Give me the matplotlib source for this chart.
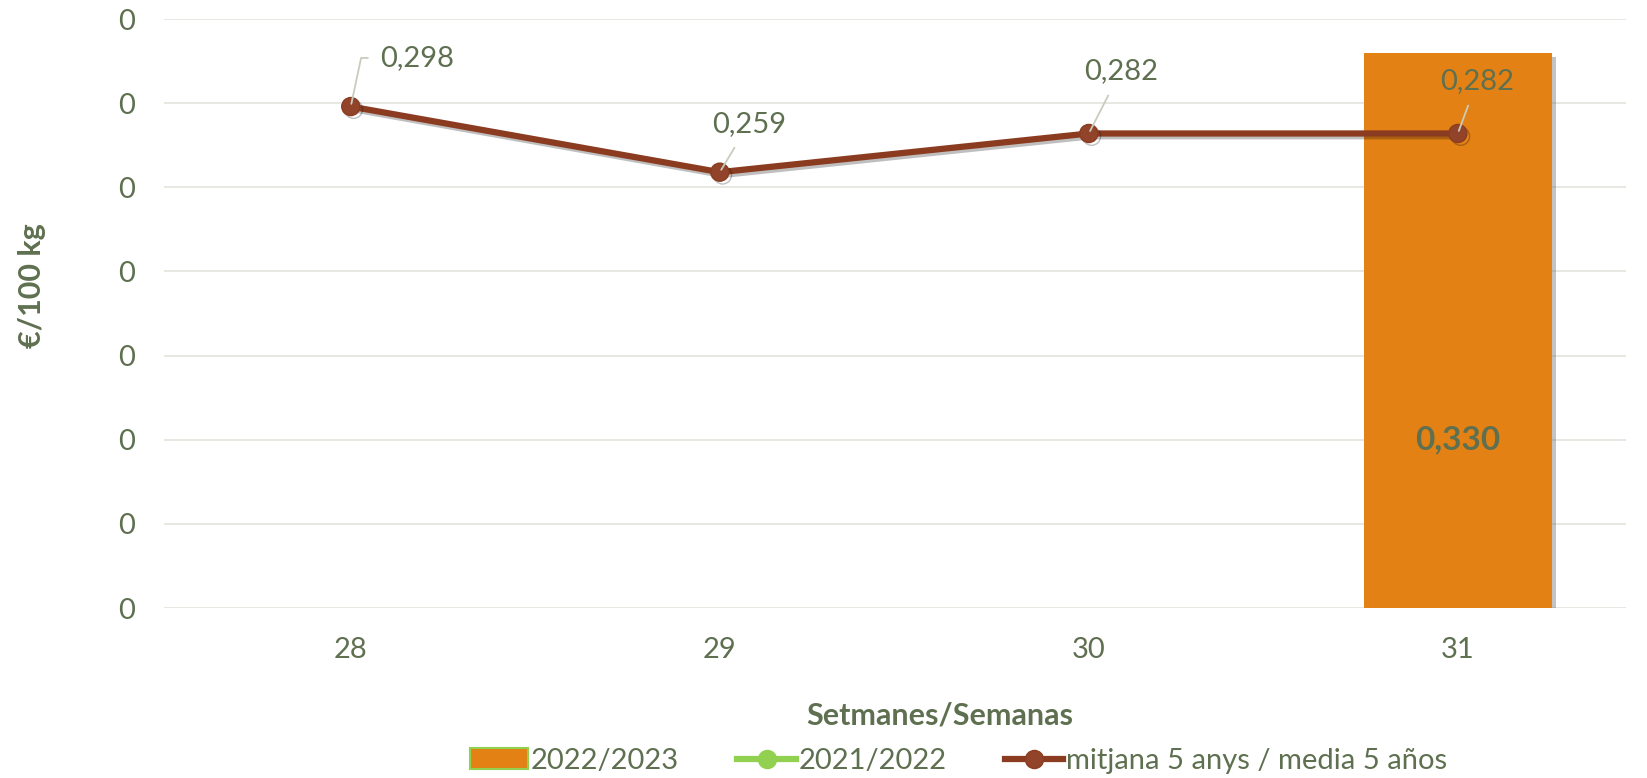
import matplotlib
matplotlib.use("Agg")
import matplotlib.pyplot as plt
import matplotlib.patheffects as pe
from matplotlib.patches import Patch
from matplotlib.lines import Line2D
from matplotlib.ticker import FormatStrFormatter
import numpy as np

weeks = ['28', '29', '30', '31']
v2223 = [np.nan, np.nan, np.nan, 0.330]
v2122 = [np.nan, np.nan, np.nan, np.nan]
avg5 = [0.298, 0.259, 0.282, 0.282]
avg_labels = ['0,298', '0,259', '0,282', '0,282']
bar_label = '0,330'
yticks = np.arange(0, 0.351, 0.05)

# label offsets (points) for the line data labels
lab_off = [(48, 35), (21, 35), (23, 45), (14, 38)]

TXT = '#5f7050'
ORANGE = '#e38114'
BROWN = '#8b3c20'
GREEN = '#92d050'
LEADER = '#c9ccbd'

plt.rcParams['font.family'] = ['Lato', 'DejaVu Sans']

fig = plt.figure(figsize=(16.47, 7.78), dpi=100)
ax = fig.add_axes([0.0996, 0.2185, 0.8875, 0.757])

x = np.arange(len(weeks))
shadow = [pe.SimplePatchShadow(offset=(3, -3), alpha=0.35, shadow_rgbFace='#555555'), pe.Normal()]

ax.bar(x, v2223, width=0.51, color=ORANGE, zorder=2, path_effects=shadow)
ax.plot(x, v2122, color=GREEN, lw=4.5, marker='o', ms=13, zorder=3)
ax.plot(x, avg5, color=BROWN, lw=4.5, marker='o', ms=13, mfc='#91442a',
        mec=BROWN, zorder=4,
        path_effects=[pe.SimpleLineShadow(offset=(2, -2), alpha=0.25), pe.Normal()])

for i, (v, lab) in enumerate(zip(avg5, avg_labels)):
    cs = 'angle,angleA=0,angleB=78,rad=0' if i == 0 else 'arc3'
    ax.annotate(lab, (x[i], v), xytext=lab_off[i], textcoords='offset points',
                ha='center', va='center', fontsize=21, color=TXT, zorder=6,
                arrowprops=dict(arrowstyle='-', color=LEADER, lw=1.3,
                                shrinkA=7, shrinkB=2, connectionstyle=cs))

for i, v in enumerate(v2223):
    if not np.isnan(v):
        ax.text(x[i], 0.1, bar_label, ha='center', va='center', fontsize=24,
                fontweight='bold', color=TXT, zorder=6)

ax.set_xlim(-0.506, 3.455)
ax.set_ylim(0, 0.35)
ax.set_yticks(yticks)
ax.yaxis.set_major_formatter(FormatStrFormatter('%.0f'))
ax.set_xticks(x)
ax.set_xticklabels(weeks)
ax.tick_params(length=0, labelsize=21, labelcolor=TXT)
ax.tick_params(axis='y', pad=21)
ax.tick_params(axis='x', pad=21)
ax.grid(axis='y', color='#e6e6e0', lw=1.3, zorder=0)
ax.set_axisbelow(True)
for s in ax.spines.values():
    s.set_visible(False)

ax.set_xlabel('Setmanes/Semanas', fontsize=22, fontweight='bold', color=TXT)
ax.xaxis.set_label_coords(0.531, -0.158)
ax.set_ylabel('€/100 kg', fontsize=22, fontweight='bold', color=TXT)
ax.yaxis.set_label_coords(-0.081, 0.547)

handles = [
    Patch(facecolor=ORANGE, edgecolor=GREEN, lw=1.5),
    Line2D([], [], color=GREEN, lw=4.5, marker='o', ms=13),
    Line2D([], [], color=BROWN, lw=4.5, marker='o', ms=13, mfc='#91442a'),
]
fig.legend(handles, ['2022/2023', '2021/2022', 'mitjana 5 anys / media 5 años'],
           loc='center', bbox_to_anchor=(0.582, 0.022), ncol=3, frameon=False,
           fontsize=21, labelcolor=TXT, handlelength=2.0, handletextpad=0.1,
           columnspacing=2.0, borderpad=0)

fig.savefig('out.png', dpi=100)
